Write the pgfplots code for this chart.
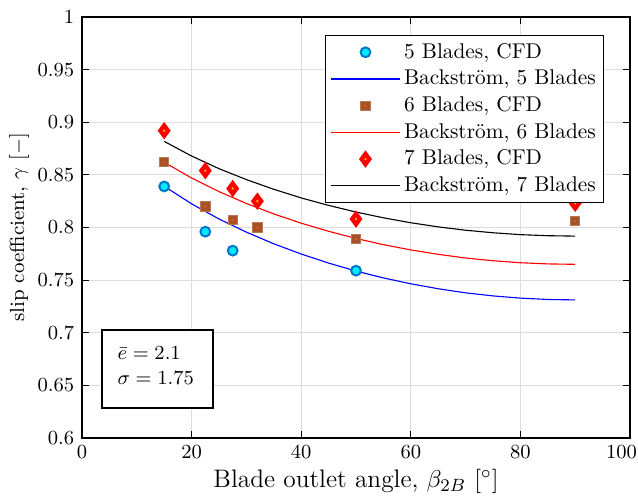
\documentclass[border=0pt]{standalone}
\usepackage{pgfplots}
\pgfplotsset{compat=1.18}
\definecolor{cfdedge}{RGB}{0,118,200}
\definecolor{cfdfill}{RGB}{0,235,255}
\definecolor{sqfill}{RGB}{165,82,40}
\definecolor{sqedge}{RGB}{190,120,80}
\definecolor{sqcenter}{RGB}{235,90,20}
\definecolor{diacenter}{RGB}{250,170,20}
\definecolor{gridgray}{RGB}{222,222,222}
\pgfdeclareplotmark{sqdot}{%
  \pgfpathrectangle{\pgfqpoint{-\pgfplotmarksize}{-\pgfplotmarksize}}{\pgfqpoint{2\pgfplotmarksize}{2\pgfplotmarksize}}%
  \pgfusepathqfillstroke
  \begin{pgfscope}%
  \pgfsetfillcolor{sqcenter}%
  \pgfpathcircle{\pgfpointorigin}{0.55pt}\pgfusepathqfill
  \end{pgfscope}}
\pgfdeclareplotmark{diadot}{%
  \pgfpathmoveto{\pgfqpoint{0pt}{1.35\pgfplotmarksize}}%
  \pgfpathlineto{\pgfqpoint{\pgfplotmarksize}{0pt}}%
  \pgfpathlineto{\pgfqpoint{0pt}{-1.35\pgfplotmarksize}}%
  \pgfpathlineto{\pgfqpoint{-\pgfplotmarksize}{0pt}}%
  \pgfpathclose
  \pgfusepathqfillstroke
  \begin{pgfscope}%
  \pgfsetfillcolor{diacenter}%
  \pgfpathcircle{\pgfpointorigin}{0.6pt}\pgfusepathqfill
  \end{pgfscope}}
\begin{document}
\begin{tikzpicture}
\begin{axis}[
  scale only axis,
  width=246.6pt, height=189.45pt,
  xmin=0, xmax=100, ymin=0.6, ymax=1,
  xtick={0,20,40,60,80},
  extra x ticks={100},
  extra x tick style={grid=none, xticklabel style={xshift=-3.8pt}},
  ytick={0.6,0.65,0.7,0.75,0.8,0.85,0.9,0.95,1},
  yticklabel style={/pgf/number format/fixed, /pgf/number format/precision=2},
  tick align=inside,
  major tick length=3pt,
  grid=major,
  major grid style={draw=gridgray, line width=0.5pt},
  axis line style={line width=0.5pt},
  tick style={black, line width=0.5pt},
  tick label style={font=\fontsize{9.2}{11}\selectfont},
  xlabel style={font=\fontsize{11.4}{13}\selectfont, yshift=2pt},
  ylabel style={font=\fontsize{9.2}{11}\selectfont, yshift=-3pt},
  xlabel={Blade outlet angle, $\beta_{2B}$ $[^\circ]$},
  ylabel={slip coefficient, $\gamma$ $[-]$},
  legend style={at={(0.9526,0.957)}, anchor=north east,
    font=\fontsize{9.6}{11}\selectfont, row sep=0pt, inner xsep=2pt, inner ysep=1.5pt,
    nodes={inner xsep=1.5pt, inner ysep=1.9pt},
    cells={anchor=west}},
  legend image code/.code={\draw[mark repeat=2,mark phase=2,#1] plot coordinates {(0cm,0cm)(0.55cm,0cm)(1.1cm,0cm)};},
]
\addplot[only marks, mark=*, mark size=2.2pt, mark options={draw=cfdedge, fill=cfdfill, line width=0.9pt}]
  coordinates {(15,0.839) (22.5,0.796) (27.5,0.778) (50,0.759)};
\addlegendentry{5 Blades, CFD}
\addplot[blue, line width=0.5pt, no marks] coordinates {
(15,0.8392) (20,0.8225) (25,0.8081) (30,0.7956) (35,0.7845) (40,0.7748) (45,0.7662) (50,0.7586)
(55,0.7521) (60,0.7465) (65,0.7418) (70,0.7379) (75,0.7350) (80,0.7329) (85,0.7316) (90,0.7312)};
\addlegendentry{Backstr\"om, 5 Blades}
\addplot[only marks, mark=sqdot, mark size=2.1pt, mark options={draw=sqedge, fill=sqfill, line width=0.4pt}]
  coordinates {(15,0.862) (22.5,0.820) (27.5,0.807) (32,0.800) (50,0.789) (90,0.806)};
\addlegendentry{6 Blades, CFD}
\addplot[red, line width=0.5pt, no marks] coordinates {
(15,0.8620) (20,0.8470) (25,0.8341) (30,0.8228) (35,0.8129) (40,0.8041) (45,0.7964) (50,0.7896)
(55,0.7837) (60,0.7787) (65,0.7745) (70,0.7710) (75,0.7684) (80,0.7665) (85,0.7654) (90,0.7650)};
\addlegendentry{Backstr\"om, 6 Blades}
\addplot[only marks, mark=diadot, mark size=2.6pt, mark options={draw=red, fill=red, line width=0.5pt}]
  coordinates {(15,0.892) (22.5,0.854) (27.5,0.837) (32,0.825) (50,0.808) (90,0.823)};
\addlegendentry{7 Blades, CFD}
\addplot[black, line width=0.5pt, no marks] coordinates {
(15,0.8818) (20,0.8679) (25,0.8559) (30,0.8455) (35,0.8363) (40,0.8281) (45,0.8210) (50,0.8147)
(55,0.8092) (60,0.8045) (65,0.8006) (70,0.7974) (75,0.7950) (80,0.7932) (85,0.7922) (90,0.7918)};
\addlegendentry{Backstr\"om, 7 Blades}
\draw[black, line width=0.5pt, fill=white] (rel axis cs:0.0365,0.0713) rectangle (rel axis cs:0.239,0.2566);
\node[anchor=west, inner sep=0pt, font=\fontsize{8.8}{11}\selectfont] at (rel axis cs:0.064,0.202) {$\bar{e} = 2.1$};
\node[anchor=west, inner sep=0pt, font=\fontsize{8.8}{11}\selectfont] at (rel axis cs:0.064,0.1425) {$\sigma = 1.75$};
\end{axis}
\pgfresetboundingbox
\useasboundingbox (-36.9pt,-27pt) rectangle (250.2pt,197.1pt);
\end{tikzpicture}
\end{document}
